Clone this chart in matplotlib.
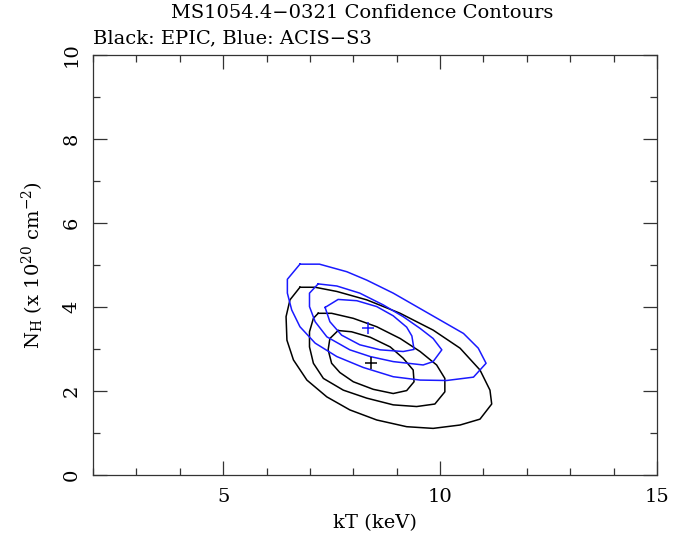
import numpy as np
import matplotlib
matplotlib.use("Agg")
import matplotlib.pyplot as plt
from matplotlib.ticker import MultipleLocator

# confidence contours (kT in keV, NH in 1e20 cm^-2)
epic_outer_kt = [6.77, 7.12, 7.62, 8.31, 9.08, 9.84, 10.46, 10.92, 11.15, 11.19, 10.92, 10.46,
                 9.84, 9.23, 8.54, 7.92, 7.39, 6.93, 6.62, 6.47, 6.45, 6.54]
epic_outer_nh = [4.47, 4.47, 4.37, 4.17, 3.85, 3.45, 3.02, 2.50, 2.02, 1.69, 1.33, 1.19,
                 1.11, 1.15, 1.31, 1.55, 1.86, 2.26, 2.74, 3.21, 3.77, 4.17]
epic_mid_kt = [7.19, 7.50, 8.00, 8.54, 9.08, 9.54, 9.92, 10.11, 10.11, 9.88, 9.46, 8.92,
               8.31, 7.77, 7.31, 7.08, 6.99, 6.99, 7.08]
epic_mid_nh = [3.85, 3.85, 3.73, 3.53, 3.25, 2.94, 2.62, 2.30, 1.98, 1.69, 1.63, 1.67,
               1.83, 2.02, 2.30, 2.66, 3.05, 3.41, 3.73]
epic_inner_kt = [7.65, 7.96, 8.39, 8.85, 9.15, 9.38, 9.40, 9.23, 8.92, 8.46, 8.00, 7.69,
                 7.50, 7.42, 7.46]
epic_inner_nh = [3.44, 3.41, 3.28, 3.05, 2.78, 2.50, 2.22, 2.01, 1.94, 2.04, 2.22, 2.44,
                 2.66, 2.98, 3.25]
epic_best = (8.41, 2.66)

acis_outer_kt = [6.77, 7.22, 7.85, 8.31, 8.92, 9.46, 10.00, 10.54, 10.88, 11.06, 10.77, 10.15,
                 9.54, 8.92, 8.23, 7.62, 7.12, 6.77, 6.58, 6.48, 6.48]
acis_outer_nh = [5.02, 5.02, 4.84, 4.64, 4.33, 4.01, 3.69, 3.37, 3.02, 2.66, 2.33, 2.25,
                 2.26, 2.34, 2.56, 2.82, 3.14, 3.53, 3.93, 4.33, 4.66]
acis_mid_kt = [7.19, 7.62, 8.15, 8.69, 9.15, 9.54, 9.84, 10.04, 9.84, 9.61, 8.92, 8.39,
               7.92, 7.39, 7.12, 6.99, 6.99]
acis_mid_nh = [4.55, 4.50, 4.33, 4.05, 3.77, 3.49, 3.25, 2.98, 2.70, 2.62, 2.70, 2.82,
               2.98, 3.29, 3.65, 4.01, 4.33]
acis_inner_kt = [7.35, 7.65, 8.08, 8.54, 8.92, 9.23, 9.35, 9.40, 9.15, 8.62, 8.15, 7.73, 7.46]
acis_inner_nh = [3.99, 4.18, 4.15, 4.01, 3.79, 3.52, 3.31, 2.99, 2.94, 2.98, 3.10, 3.33, 3.65]
acis_best = (8.33, 3.51)

plt.rcParams['font.family'] = 'DejaVu Serif'
plt.rcParams['mathtext.fontset'] = 'dejavuserif'

fig = plt.figure(figsize=(6.87, 5.35), dpi=100)
ax = fig.add_axes([93 / 687, 1 - 475 / 535, 564 / 687, 420 / 535])


def closed(xs, ys):
    return list(xs) + [xs[0]], list(ys) + [ys[0]]


for kt, nh in [(epic_outer_kt, epic_outer_nh), (epic_mid_kt, epic_mid_nh),
               (epic_inner_kt, epic_inner_nh)]:
    ax.plot(*closed(kt, nh), color='black', lw=1.1)
for kt, nh in [(acis_outer_kt, acis_outer_nh), (acis_mid_kt, acis_mid_nh),
               (acis_inner_kt, acis_inner_nh)]:
    ax.plot(*closed(kt, nh), color='#1a1aff', lw=1.1)

ax.plot(*epic_best, marker='+', color='black', ms=8, mew=1.1)
ax.plot(*acis_best, marker='+', color='#1a1aff', ms=8, mew=1.1)

ax.set_xlim(2, 15)
ax.set_ylim(0, 10)
ax.xaxis.set_major_locator(MultipleLocator(5))
ax.xaxis.set_minor_locator(MultipleLocator(1))
ax.yaxis.set_major_locator(MultipleLocator(2))
ax.yaxis.set_minor_locator(MultipleLocator(1))
ax.tick_params(which='both', direction='in', top=True, right=True, width=0.9,
               labelsize=14, color='#333333')
ax.tick_params(which='major', length=10, pad=9)
ax.tick_params(which='minor', length=5)
for lab in ax.get_yticklabels():
    lab.set_rotation(90)
    lab.set_va('center')
for s in ax.spines.values():
    s.set_linewidth(0.9)
    s.set_color('#333333')

ax.set_xlabel('kT (keV)', fontsize=14, labelpad=6)
ax.set_ylabel(r'N$_{\mathrm{H}}$ (x 10$^{20}$ cm$^{-2}$)', fontsize=14, labelpad=12)

fig.text(362 / 687, 1 - 13 / 535, 'MS1054.4\u22120321 Confidence Contours', ha='center',
         va='center', fontsize=14)
fig.text(93 / 687, 1 - 38 / 535, 'Black: EPIC, Blue: ACIS\u2212S3', ha='left', va='center',
         fontsize=14)

fig.savefig('out.png', dpi=100)
